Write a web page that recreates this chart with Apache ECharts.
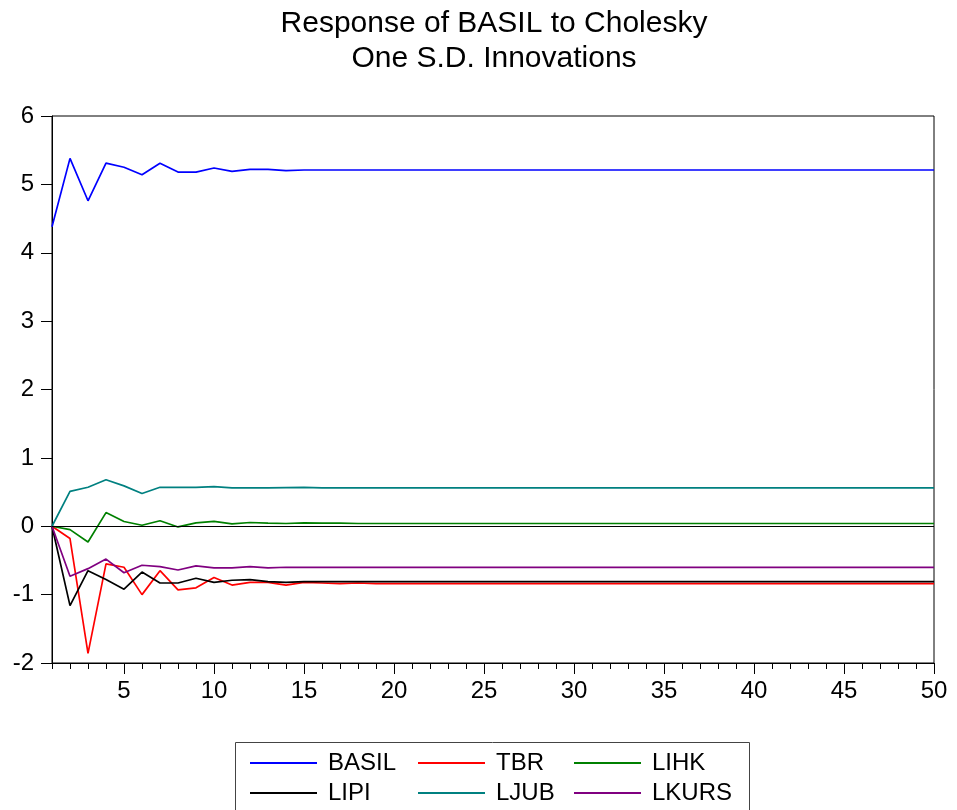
<!DOCTYPE html>
<html>
<head>
<meta charset="utf-8">
<script src="https://cdn.jsdelivr.net/npm/echarts@6/dist/echarts.min.js"></script>
<style>html,body{margin:0;padding:0;background:#fff}#c{width:957px;height:810px}</style>
</head>
<body>
<div id="c"></div>
<script>
const periods = Array.from({length: 50}, (_, i) => i + 1);
const xTickLabels = [5, 10, 15, 20, 25, 30, 35, 40, 45, 50];
const yTickLabels = [-2, -1, 0, 1, 2, 3, 4, 5, 6];

const BASIL = [4.38,5.38,4.76,5.31,5.25,5.14,5.31,5.18,5.18,5.24,5.19,5.22,5.22,5.20,5.21,5.21,5.21,5.21,5.21,5.21,
  5.21,5.21,5.21,5.21,5.21,5.21,5.21,5.21,5.21,5.21,5.21,5.21,5.21,5.21,5.21,5.21,5.21,5.21,5.21,5.21,
  5.21,5.21,5.21,5.21,5.21,5.21,5.21,5.21,5.21,5.21];
const TBR = [0,-0.18,-1.86,-0.55,-0.60,-1.00,-0.65,-0.93,-0.90,-0.75,-0.86,-0.82,-0.82,-0.86,-0.82,-0.83,-0.84,-0.83,-0.84,-0.84,
  -0.84,-0.84,-0.84,-0.84,-0.84,-0.84,-0.84,-0.84,-0.84,-0.84,-0.84,-0.84,-0.84,-0.84,-0.84,-0.84,-0.84,-0.84,-0.84,-0.84,
  -0.84,-0.84,-0.84,-0.84,-0.84,-0.84,-0.84,-0.84,-0.84,-0.84];
const LIHK = [0,-0.05,-0.23,0.20,0.07,0.015,0.08,-0.01,0.05,0.07,0.035,0.055,0.045,0.04,0.05,0.045,0.045,0.04,0.04,0.04,
  0.04,0.04,0.04,0.04,0.04,0.04,0.04,0.04,0.04,0.04,0.04,0.04,0.04,0.04,0.04,0.04,0.04,0.04,0.04,0.04,
  0.04,0.04,0.04,0.04,0.04,0.04,0.04,0.04,0.04,0.04];
const LIPI = [0,-1.16,-0.65,-0.78,-0.92,-0.67,-0.83,-0.83,-0.76,-0.82,-0.79,-0.78,-0.81,-0.82,-0.81,-0.81,-0.81,-0.81,-0.81,-0.81,
  -0.81,-0.81,-0.81,-0.81,-0.81,-0.81,-0.81,-0.81,-0.81,-0.81,-0.81,-0.81,-0.81,-0.81,-0.81,-0.81,-0.81,-0.81,-0.81,-0.81,
  -0.81,-0.81,-0.81,-0.81,-0.81,-0.81,-0.81,-0.81,-0.81,-0.81];
const LJUB = [0,0.51,0.57,0.68,0.59,0.48,0.57,0.57,0.57,0.58,0.56,0.56,0.56,0.565,0.57,0.56,0.56,0.56,0.56,0.56,
  0.56,0.56,0.56,0.56,0.56,0.56,0.56,0.56,0.56,0.56,0.56,0.56,0.56,0.56,0.56,0.56,0.56,0.56,0.56,0.56,
  0.56,0.56,0.56,0.56,0.56,0.56,0.56,0.56,0.56,0.56];
const LKURS = [0,-0.73,-0.62,-0.48,-0.68,-0.57,-0.59,-0.64,-0.58,-0.61,-0.61,-0.59,-0.61,-0.60,-0.60,-0.60,-0.60,-0.60,-0.60,-0.60,
  -0.60,-0.60,-0.60,-0.60,-0.60,-0.60,-0.60,-0.60,-0.60,-0.60,-0.60,-0.60,-0.60,-0.60,-0.60,-0.60,-0.60,-0.60,-0.60,-0.60,
  -0.60,-0.60,-0.60,-0.60,-0.60,-0.60,-0.60,-0.60,-0.60,-0.60];

const seriesNames = ['BASIL','TBR','LIHK','LIPI','LJUB','LKURS'];
const seriesData = [BASIL, TBR, LIHK, LIPI, LJUB, LKURS];
const seriesColors = ['#0000ff','#ff0000','#008000','#000000','#008080','#800080'];

const FONT = '"Liberation Sans", Arial, sans-serif';
const chart = echarts.init(document.getElementById('c'));

const series = seriesNames.map((n, i) => ({
  name: n,
  type: 'line',
  data: periods.map((p, k) => [p, seriesData[i][k]]),
  symbol: 'none',
  lineStyle: { color: seriesColors[i], width: 1.7 },
  itemStyle: { color: seriesColors[i] },
  animation: false,
  z: 3
}));
series.push({
  name: 'zero',
  type: 'line',
  data: [],
  silent: true,
  markLine: {
    silent: true, symbol: 'none', animation: false,
    label: { show: false },
    lineStyle: { color: '#000', width: 1, type: 'solid' },
    data: [{ yAxis: 0 }]
  },
  z: 2
});

const legendCommon = {
  orient: 'vertical',
  padding: 0,
  height: 60,
  icon: 'rect',
  itemWidth: 67,
  itemHeight: 2,
  itemGap: 4,
  selectedMode: false,
  textStyle: { fontFamily: FONT, fontSize: 24, color: '#000', lineHeight: 26, padding: [0,0,0,6] }
};

chart.setOption({
  backgroundColor: '#fff',
  animation: false,
  grid: { left: 52, right: 23, top: 116, bottom: 147, show: true, borderColor: '#000', borderWidth: 1, containLabel: false },
  xAxis: [{
    type: 'value', min: 1, max: 50, interval: 1,
    axisLine: { onZero: false, lineStyle: { color: '#000', width: 1 } },
    axisTick: { show: true, length: 6, inside: false, lineStyle: { color: '#000' } },
    axisLabel: { show: false },
    splitLine: { show: false }
  }, {
    type: 'value', min: 1, max: 50, position: 'bottom', offset: 0,
    axisLine: { show: false, onZero: false },
    axisTick: { show: true, length: 11, customValues: xTickLabels, lineStyle: { color: '#000' } },
    axisLabel: { show: true, customValues: xTickLabels, margin: 16, fontFamily: FONT, fontSize: 24, color: '#000' },
    splitLine: { show: false }
  }],
  yAxis: {
    type: 'value', min: -2, max: 6, interval: 1,
    axisLine: { show: true, onZero: false, lineStyle: { color: '#000', width: 1 } },
    axisTick: { show: true, length: 11, lineStyle: { color: '#000' } },
    axisLabel: { margin: 18, fontFamily: FONT, fontSize: 24, color: '#000' },
    splitLine: { show: false }
  },
  legend: [
    Object.assign({ left: 250, top: 750, data: ['BASIL','LIPI'] }, legendCommon),
    Object.assign({ left: 418, top: 750, data: ['TBR','LJUB'] }, legendCommon),
    Object.assign({ left: 574, top: 750, data: ['LIHK','LKURS'] }, legendCommon)
  ],
  graphic: [
    { type: 'text', x: 494, y: 24, style: { text: 'Response of BASIL to Cholesky', fontFamily: FONT, fontSize: 30, fill: '#000', textAlign: 'center', textVerticalAlign: 'middle' } },
    { type: 'text', x: 494, y: 59, style: { text: 'One S.D. Innovations', fontFamily: FONT, fontSize: 30, fill: '#000', textAlign: 'center', textVerticalAlign: 'middle' } },
    { type: 'rect', shape: { x: 235.5, y: 742.5, width: 514, height: 80 }, style: { fill: 'none', stroke: '#444', lineWidth: 1 }, silent: true }
  ],
  series: series
});
</script>
</body>
</html>
